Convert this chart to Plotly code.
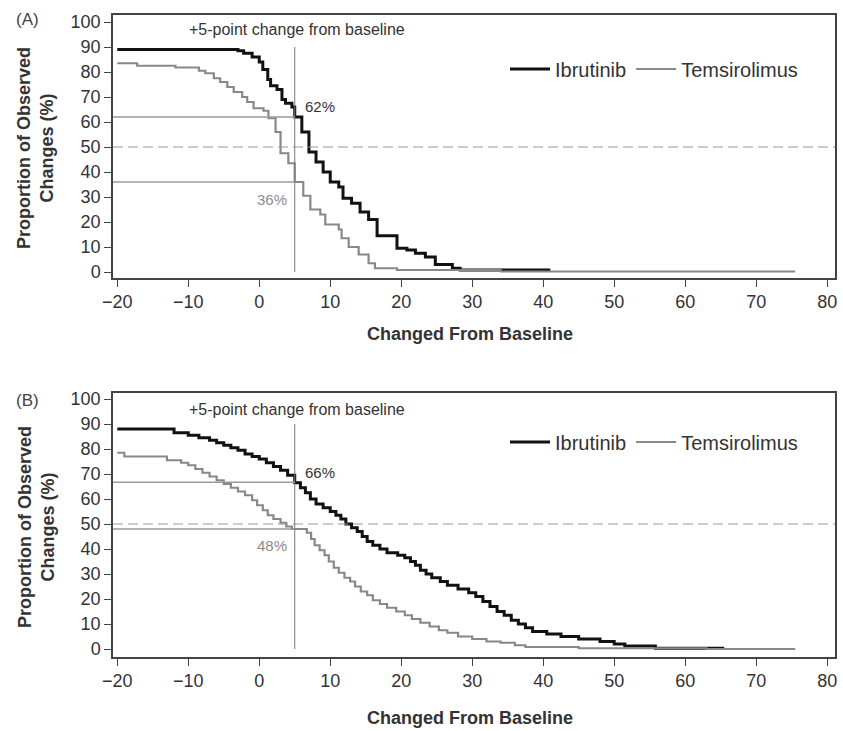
import plotly.graph_objects as go

W, H = 843, 731

# ---------------- data ----------------
# Panel A
a_ibr_x = [-20, -3, -2.2, -1, 0, 0.5, 1.2, 1.6, 2.5, 3.2, 3.7, 4.6, 5, 6, 7, 8, 9, 10, 11.2, 11.8,
           13, 14.2, 15.4, 16.6, 19.4, 20.8, 22, 23.4, 24.8, 27.2, 28.3]
a_ibr_y = [89, 88.5, 87.5, 86, 84, 81, 77, 74.5, 73, 69, 67.5, 66, 62, 56, 48, 44, 40, 36, 34, 29.5,
           27.5, 24, 21, 14.5, 9.5, 8.8, 7.5, 6, 3, 1.5, 0.8]
a_ibr_end = 41

a_tem_x = [-20, -17.2, -11.8, -8.5, -7.6, -6.4, -5.5, -4.5, -3.6, -2.4, -1.7, -0.8, 0.6, 1.3, 2.3,
           3.0, 4.1, 5.0, 6.2, 7.2, 8.6, 9.3, 11.2, 11.6, 12.6, 14.0, 15.4, 16.3, 19.4, 34]
a_tem_y = [83.5, 82.5, 81.8, 80.5, 79.5, 77.5, 76, 74, 72, 70, 68, 65.5, 64.5, 61.5, 56,
           47.5, 43.5, 36, 30.5, 25, 23, 19, 17, 13.5, 10, 7, 3.5, 1.5, 0.8, 0.2]
a_tem_end = 75.5

# Panel B
b_ibr_x = [-20, -12, -10, -8.5, -7, -6, -5, -4, -3, -2, -1, 0, 1, 2, 3, 4, 5, 5.8, 6.5, 7.2, 8, 9,
           10, 10.8, 11.5, 12.2, 13, 13.8, 14.5, 15.2, 16, 17, 18, 19.5, 20.5, 21.3, 22, 22.7, 23.5,
           24.3, 25.5, 26.5, 28, 29.5, 30.5, 31.5, 32.5, 33.5, 34.5, 35.5, 36.5, 37.5, 38.5, 40.5,
           42.5, 45, 48, 50, 51.5, 55.8]
b_ibr_y = [88, 86.5, 85.5, 84.5, 83.5, 82.5, 81.5, 80.5, 79.5, 78, 77, 76, 74.5, 73, 71.5, 69.5, 66.5,
           64.5, 62.5, 60, 58, 56.5, 55, 53.5, 52, 50, 48.5, 47, 45, 43, 41.5, 40, 38.5, 37.5, 36.5,
           35, 33.5, 31.5, 30, 28.5, 27, 25.5, 24, 22.5, 21, 19, 17, 15, 13.5, 11.5, 10, 8.5, 7, 6,
           5, 4, 3, 2, 1.2, 0.3]
b_ibr_end = 65.5

b_tem_x = [-20, -19, -13, -11, -10, -9, -8, -7, -6, -5, -4, -3, -2, -1, -0.3, 0.5, 1.2, 2, 3, 3.8,
           4.6, 6.7, 7.3, 7.8, 8.5, 9.2, 9.8, 10.5, 11.2, 12, 12.8, 13.5, 14.3, 15.2, 16, 17, 18,
           19.3, 20.5, 21.5, 22.7, 24, 25.3, 26.5, 28, 30, 32, 34, 36, 37.5, 45, 63]
b_tem_y = [78.5, 77, 75.5, 74.5, 73.5, 72, 70.5, 69, 67.5, 66, 64.5, 63, 61.5, 59.5, 57.5, 55.5,
           53.5, 52, 50.5, 49, 48, 46.5, 44, 41.5, 39.5, 37.5, 35, 32.5, 30.5, 28.5, 27, 25, 23,
           21.5, 19.5, 18, 16.5, 15, 13.5, 12, 10.5, 9, 7.5, 6.5, 5, 4, 3, 2.5, 1.5, 0.8, 0.3, 0]
b_tem_end = 75.5

threshold = 5
a_pct = [62, 36]     # Ibrutinib, Temsirolimus at +5
b_pct = [66.7, 48]
a_lbl = ["62%", "36%"]
b_lbl = ["66%", "48%"]

x_ticks = list(range(-20, 81, 10))
y_ticks = list(range(0, 101, 10))

FONT = "Arial, Liberation Sans, sans-serif"
TXT = "#333333"
BLACK = "#111111"
GREY = "#888888"


def px_x(p):
    return p / W


def px_y(p):
    return 1 - p / H


fig = go.Figure()


def add_panel(xs, ys, ends, xa, ya, legend, pct, lbl, pct_pos, note_y):
    names = ["Ibrutinib", "Temsirolimus"]
    colors = [BLACK, GREY]
    widths = [3, 2.2]
    for i in range(2):
        fig.add_trace(go.Scatter(
            x=xs[i] + [ends[i]], y=ys[i] + [ys[i][-1]],
            mode="lines", line=dict(shape="hv", color=colors[i], width=widths[i]),
            name=names[i], xaxis=xa, yaxis=ya, legend=legend, legendrank=i + 1,
            hoverinfo="skip"))
    xr = "x" if xa == "x" else "x2"
    yr = "y" if ya == "y" else "y2"
    # 50% dashed reference
    fig.add_shape(type="line", xref=xr + " domain", yref=yr, x0=0, x1=1, y0=50, y1=50,
                  line=dict(color="#999999", width=1.2, dash="10px,5px"))
    # vertical threshold line
    fig.add_shape(type="line", xref=xr, yref=yr, x0=threshold, x1=threshold, y0=0, y1=90,
                  line=dict(color="#777777", width=1))
    # horizontal lines at the threshold values
    for v in pct:
        fig.add_shape(type="line", xref=xr, yref=yr, x0=-20.6, x1=threshold, y0=v, y1=v,
                      line=dict(color="#9a9a9a", width=1.3))
    # percent labels
    fig.add_annotation(x=threshold + 1.2, y=pct_pos[0], xref=xr, yref=yr, text=lbl[0],
                       showarrow=False, xanchor="left", font=dict(size=15, color="#333333"))
    fig.add_annotation(x=threshold - 0.8, y=pct_pos[1], xref=xr, yref=yr, text=lbl[1],
                       showarrow=False, xanchor="right", font=dict(size=15, color="#8a8a8a"))
    fig.add_annotation(x=threshold + 0.3, y=note_y, xref=xr, yref=yr,
                       text="+5-point change from baseline", showarrow=False,
                       font=dict(size=16, color="#333333"))


add_panel([a_ibr_x, a_tem_x], [a_ibr_y, a_tem_y], [a_ibr_end, a_tem_end], "x", "y", "legend",
          a_pct, a_lbl, (66, 29), 96.8)
add_panel([b_ibr_x, b_tem_x], [b_ibr_y, b_tem_y], [b_ibr_end, b_tem_end], "x2", "y2", "legend2",
          b_pct, b_lbl, (70.7, 41.6), 95.7)

axis_common = dict(showline=True, mirror=True, linecolor="#444444", linewidth=1.5,
                   ticks="outside", ticklen=7, tickwidth=1.3, tickcolor="#444444",
                   showgrid=False, zeroline=False, automargin=False,
                   tickfont=dict(size=18, color=TXT, family=FONT))

legend_common = dict(orientation="h", xanchor="left", yanchor="middle",
                     bgcolor="rgba(0,0,0,0)", itemwidth=40,
                     font=dict(size=20, color=TXT, family=FONT))

fig.update_layout(
    width=W, height=H,
    margin=dict(l=0, r=0, t=0, b=0, autoexpand=False),
    paper_bgcolor="white", plot_bgcolor="white",
    font=dict(family=FONT, color=TXT),
    xaxis=dict(domain=[px_x(113), px_x(835)], range=[-20.6, 81.1], tickvals=x_ticks,
               anchor="y", **axis_common),
    yaxis=dict(domain=[px_y(278), px_y(15)], range=[-2.4, 102.8], tickvals=y_ticks,
               anchor="x", **axis_common),
    xaxis2=dict(domain=[px_x(113), px_x(835)], range=[-20.6, 81.1], tickvals=x_ticks,
                anchor="y2", **axis_common),
    yaxis2=dict(domain=[px_y(657), px_y(393)], range=[-3.2, 102.4], tickvals=y_ticks,
                anchor="x2", **axis_common),
    legend=dict(x=px_x(505), y=px_y(69), **legend_common),
    legend2=dict(x=px_x(505), y=px_y(442), **legend_common),
    showlegend=True,
)

# panel letters
fig.add_annotation(x=px_x(27), y=px_y(20), xref="paper", yref="paper", text="(A)", showarrow=False,
                   xanchor="center", yanchor="middle", font=dict(size=17, color="#444444"))
fig.add_annotation(x=px_x(27), y=px_y(400), xref="paper", yref="paper", text="(B)", showarrow=False,
                   xanchor="center", yanchor="middle", font=dict(size=17, color="#444444"))

# axis titles
for yc in (148, 527):
    fig.add_annotation(x=px_x(36), y=px_y(yc), xref="paper", yref="paper",
                       text="<b>Proportion of Observed<br>Changes (%)</b>", showarrow=False,
                       textangle=-90, xanchor="center", yanchor="middle",
                       font=dict(size=18, color=TXT))
for yc in (334, 718):
    fig.add_annotation(x=px_x(470), y=px_y(yc), xref="paper", yref="paper",
                       text="<b>Changed From Baseline</b>", showarrow=False,
                       xanchor="center", yanchor="middle",
                       font=dict(size=18, color=TXT))

fig.write_html("out.html")
